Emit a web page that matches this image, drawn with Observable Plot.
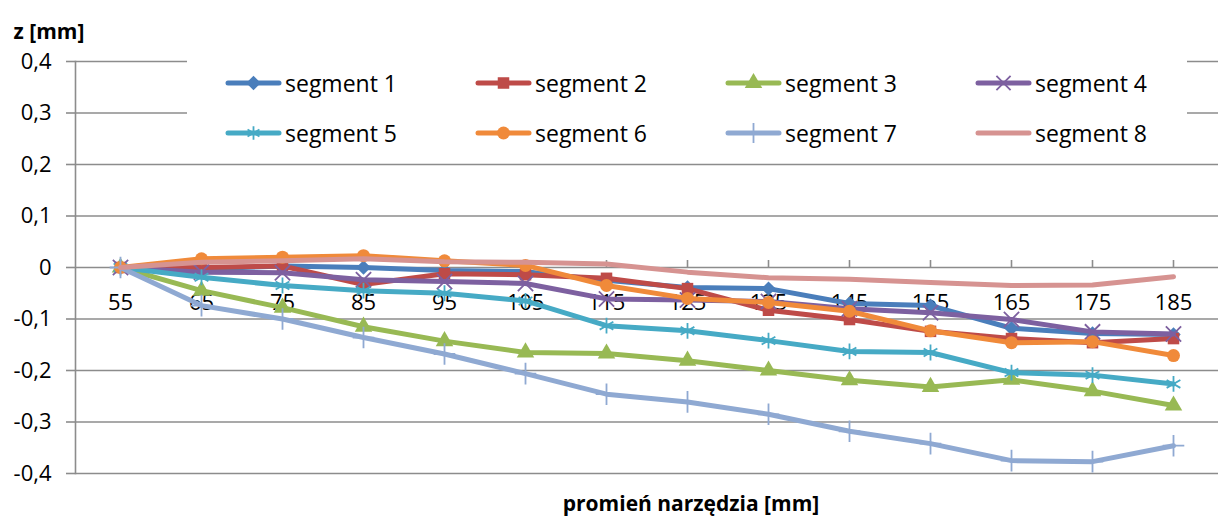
<!DOCTYPE html>
<html>
<head>
<meta charset="utf-8">
<script src="https://cdn.jsdelivr.net/npm/d3@7"></script>
<script src="https://cdn.jsdelivr.net/npm/@observablehq/plot@0.6"></script>
<style>
  html, body { margin: 0; padding: 0; background: #fff; }
  #wrap { position: relative; width: 1222px; height: 522px; font-family: "Open Sans", sans-serif; }
  #legend { position: absolute; left: 187px; top: 52px; width: 1000px; height: 106px; background: #fff; }
  .item { position: absolute; height: 30px; display: flex; align-items: center; font-size: 23px; color: #000; white-space: nowrap; }
  .item svg { margin-right: 3px; }
</style>
</head>
<body>
<div id="wrap"></div>
<script>
const categories = [55, 65, 75, 85, 95, 105, 115, 125, 135, 145, 155, 165, 175, 185];
const seg1 = [0, -0.003, 0.003, 0.0, -0.006, -0.008, -0.025, -0.039, -0.041, -0.07, -0.074, -0.118, -0.128, -0.13];
const seg2 = [0, 0.0, 0.003, -0.033, -0.012, -0.014, -0.021, -0.041, -0.083, -0.101, -0.124, -0.138, -0.146, -0.138];
const seg3 = [0, -0.045, -0.078, -0.115, -0.143, -0.165, -0.167, -0.181, -0.2, -0.219, -0.232, -0.218, -0.24, -0.268];
const seg4 = [0, -0.009, -0.01, -0.024, -0.027, -0.031, -0.061, -0.063, -0.066, -0.08, -0.088, -0.101, -0.125, -0.129];
const seg5 = [0, -0.019, -0.035, -0.045, -0.05, -0.065, -0.113, -0.123, -0.142, -0.163, -0.165, -0.204, -0.209, -0.226];
const seg6 = [0, 0.017, 0.02, 0.023, 0.013, 0.004, -0.035, -0.06, -0.068, -0.085, -0.123, -0.146, -0.144, -0.171];
const seg7 = [0, -0.074, -0.1, -0.136, -0.168, -0.206, -0.246, -0.261, -0.285, -0.318, -0.342, -0.375, -0.377, -0.346];
const seg8 = [0, 0.01, 0.013, 0.017, 0.011, 0.01, 0.007, -0.009, -0.02, -0.023, -0.029, -0.035, -0.034, -0.018];
const seriesNames = ["segment 1", "segment 2", "segment 3", "segment 4", "segment 5", "segment 6", "segment 7", "segment 8"];
const seriesValues = [seg1, seg2, seg3, seg4, seg5, seg6, seg7, seg8];
const colors = ["#4A7EBB", "#BE4B48", "#98B954", "#7D60A0", "#46AAC5", "#F08A3A", "#8FA9D2", "#D69391"];
const symbols = ["diamond2", "square", "triangle", "times", "asterisk", "circle", "plus", null];
const strokeSymbols = new Set(["times", "asterisk", "plus"]);
const yTicks = [-0.4, -0.3, -0.2, -0.1, 0, 0.1, 0.2, 0.3, 0.4];
const yTitle = "z [mm]";
const xTitle = "promień narzędzia [mm]";

const gray = "#8c8c8c";
const fmt = d => d === 0 ? "0" : d.toFixed(1).replace(".", ",");

const seriesMarks = [];
seriesValues.forEach((vals, i) => {
  const rows = categories.map((c, j) => ({x: c, y: vals[j], s: seriesNames[i]}));
  seriesMarks.push(Plot.line(rows, {x: "x", y: "y", stroke: colors[i], strokeWidth: 5, strokeLinejoin: "round", strokeLinecap: "round"}));
  const sym = symbols[i];
  if (sym) {
    if (strokeSymbols.has(sym)) {
      seriesMarks.push(Plot.dot(rows, {x: "x", y: "y", symbol: sym, r: sym === "asterisk" ? 7.5 : 7, stroke: colors[i], strokeWidth: 1.8, fill: "none"}));
    } else {
      seriesMarks.push(Plot.dot(rows, {x: "x", y: "y", symbol: sym, r: 6.5, fill: colors[i], stroke: "none"}));
    }
  }
});

const chart = Plot.plot({
  width: 1222,
  height: 522,
  marginLeft: 75,
  marginRight: 4,
  marginTop: 61,
  marginBottom: 49,
  style: {fontFamily: "'Open Sans', sans-serif", fontSize: "22px", color: "#000", background: "#fff"},
  x: {type: "point", domain: categories, padding: 0.5, axis: null},
  y: {domain: [-0.4, 0.4], axis: null},
  marks: [
    Plot.ruleY(yTicks, {stroke: gray, strokeWidth: 1.6}),
    Plot.axisY(yTicks, {tickSize: 9, tickPadding: 15, tickFormat: fmt, stroke: gray, strokeWidth: 1.6, fill: "#000", fontSize: 22, label: null}),
    Plot.frame({anchor: "left", stroke: gray, strokeWidth: 1.6}),
    Plot.ruleX(categories, {x: d => d, y1: () => 0, y2: () => 0, insetTop: -7, stroke: gray, strokeWidth: 1.6}),
    Plot.text(categories, {x: d => d, y: () => 0, dy: 35, text: d => String(d), fontSize: 22, fill: "#000"}),
    ...seriesMarks,
    Plot.text([yTitle], {frameAnchor: "top-left", dx: -62, dy: -37, textAnchor: "start", fontWeight: "bold", fontSize: 21, fill: "#000"}),
    Plot.text([xTitle], {frameAnchor: "bottom", dx: 44, dy: 37, fontWeight: "bold", fontSize: 21, fill: "#000"})
  ]
});

const wrap = document.getElementById("wrap");
wrap.appendChild(chart);

// legend
const legend = document.createElement("div");
legend.id = "legend";
wrap.appendChild(legend);
const colX = [38, 288, 538, 788];
const rowY = [16, 66];
seriesNames.forEach((name, i) => {
  const item = document.createElement("div");
  item.className = "item";
  item.style.left = colX[i % 4] + "px";
  item.style.top = rowY[Math.floor(i / 4)] + "px";
  const svg = d3.create("svg").attr("width", 57).attr("height", 30);
  svg.append("line").attr("x1", 3).attr("x2", 54).attr("y1", 15).attr("y2", 15)
    .attr("stroke", colors[i]).attr("stroke-width", 5).attr("stroke-linecap", "round");
  const sym = symbols[i];
  if (sym) {
    const map = {diamond2: d3.symbolDiamond2, square: d3.symbolSquare, triangle: d3.symbolTriangle, times: d3.symbolTimes, asterisk: d3.symbolAsterisk, circle: d3.symbolCircle, plus: d3.symbolPlus};
    const path = d3.symbol(map[sym], Math.PI * 6.5 * 6.5)();
    const p = svg.append("path").attr("d", path).attr("transform", "translate(28.5,15)");
    if (strokeSymbols.has(sym)) p.attr("fill", "none").attr("stroke", colors[i]).attr("stroke-width", 1.8);
    else p.attr("fill", colors[i]);
  }
  item.appendChild(svg.node());
  const span = document.createElement("span");
  span.textContent = name;
  item.appendChild(span);
  legend.appendChild(item);
});
</script>
</body>
</html>
